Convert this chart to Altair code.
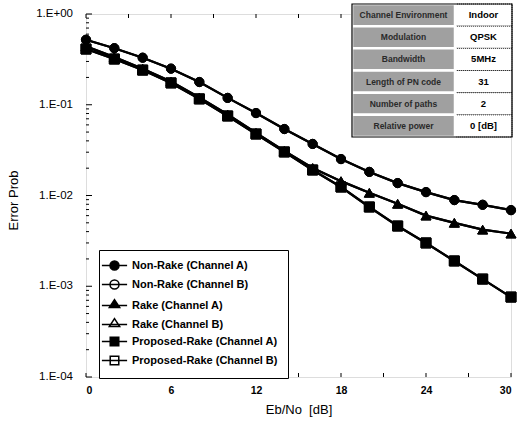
import altair as alt
import pandas as pd

# ---------------- data ----------------
snr = [0, 2, 4, 6, 8, 10, 12, 14, 16, 18, 20, 22, 24, 26, 28, 30]

nonrake_a = [0.52, 0.42, 0.33, 0.25, 0.178, 0.119, 0.081, 0.054, 0.037, 0.0252,
             0.0182, 0.0137, 0.0109, 0.0089, 0.0079, 0.0069]
nonrake_b = [0.52, 0.42, 0.33, 0.25, 0.178, 0.119, 0.081, 0.054, 0.037, 0.0252,
             0.0182, 0.0137, 0.0109, 0.0089, 0.0079, 0.0069]
rake_a = [0.44, 0.335, 0.25, 0.18, 0.12, 0.078, 0.049, 0.031, 0.0201, 0.0144,
          0.0107, 0.0081, 0.0060, 0.0050, 0.0042, 0.0038]
rake_b = [0.44, 0.335, 0.25, 0.18, 0.12, 0.078, 0.049, 0.031, 0.0201, 0.0144,
          0.0107, 0.0081, 0.0060, 0.0050, 0.0042, 0.0038]
prop_a = [0.411, 0.319, 0.241, 0.174, 0.116, 0.0752, 0.0476, 0.0302, 0.0191, 0.0124,
          0.00747, 0.00461, 0.0030, 0.0019, 0.0012, 0.00076]
prop_b = [0.411, 0.319, 0.241, 0.174, 0.116, 0.0752, 0.0476, 0.0302, 0.0191, 0.0124,
          0.00747, 0.00461, 0.0030, 0.0019, 0.0012, 0.00076]

series_names = ["Non-Rake (Channel A)", "Non-Rake (Channel B)",
                "Rake (Channel A)", "Rake (Channel B)",
                "Proposed-Rake (Channel A)", "Proposed-Rake (Channel B)"]
series_values = [nonrake_a, nonrake_b, rake_a, rake_b, prop_a, prop_b]
marker_shapes = ["circle", "circle", "triangle-up", "triangle-up", "square", "square"]
marker_fills = ["black", "white", "black", "white", "black", "white"]

x_tick_labels = [0, 6, 12, 18, 24, 30]
x_minor_ticks = [3, 9, 15, 21, 27]
y_tick_values = [1e-4, 1e-3, 1e-2, 1e-1, 1.0]
y_tick_text = ["1.E-04", "1.E-03", "1.E-02", "1.E-01", "1.E+00"]
y_minor_ticks = [m * d for d in [1e-4, 1e-3, 1e-2, 1e-1] for m in range(2, 10)]

table_params = ["Channel Environment", "Modulation", "Bandwidth",
                "Length of PN code", "Number of paths", "Relative power"]
table_values = ["Indoor", "QPSK", "5MHz", "31", "2", "0 [dB]"]

# ---------------- build tables ----------------
rows = []
for name, vals in zip(series_names, series_values):
    for xv, v in zip(snr, vals):
        rows.append({"series": name, "snr": xv, "err": v})
df = pd.DataFrame(rows)

W, H = 425, 363
FONT = "Liberation Sans"

xscale = alt.Scale(domain=[0, 30], nice=False, zero=False)
yscale = alt.Scale(type="log", domain=[1e-4, 1], nice=False)

x_enc = alt.X("snr:Q", scale=xscale,
              axis=alt.Axis(values=x_tick_labels, title="Eb/No\u00a0 [dB]",
                            domain=False, ticks=True, tickSize=8, tickOpacity=0,
                            grid=False,
                            labelFont=FONT, labelFontSize=10.5, labelFontWeight="bold",
                            labelColor="black", labelPadding=0,
                            titleFont=FONT, titleFontSize=13, titleFontWeight="normal",
                            titleColor="black", titlePadding=8))
y_enc = alt.Y("err:Q", scale=yscale,
              axis=alt.Axis(values=y_tick_values, labels=False,
                            title="Error Prob",
                            domain=False, ticks=False, grid=False,
                            titleFont=FONT, titleFontSize=13, titleFontWeight="normal",
                            titleColor="black", titleX=-66, titleY=186))

base = alt.Chart(df)

lines = base.mark_line(color="black", strokeWidth=2.2).encode(
    x=x_enc, y=y_enc, detail="series:N")

point_layers = []
for i in [1, 3, 5, 0, 2, 4]:
    sz = 85 if marker_shapes[i] == "circle" else 100
    point_layers.append(
        base.transform_filter(alt.datum.series == series_names[i])
        .mark_point(shape=marker_shapes[i], filled=True, fill=marker_fills[i],
                    stroke="black", strokeWidth=1, size=sz, opacity=1)
        .encode(x=x_enc, y=y_enc)
    )

# y tick labels (drawn through the y scale)
ylab = alt.Chart(pd.DataFrame({"err": y_tick_values, "lab": y_tick_text})).mark_text(
    font=FONT, fontSize=11.5, color="black", align="right", baseline="middle").encode(
    y=y_enc, x=alt.value(-13), text="lab:N")

# inward tick marks
yt_major = alt.Chart(pd.DataFrame({"err": y_tick_values})).mark_rule(
    color="black", strokeWidth=1).encode(y=y_enc, x=alt.value(0), x2=alt.value(6))
yt_minor = alt.Chart(pd.DataFrame({"err": y_minor_ticks})).mark_rule(
    color="black", strokeWidth=1).encode(y=y_enc, x=alt.value(0), x2=alt.value(3))
xt_df = pd.DataFrame({"snr": x_tick_labels + x_minor_ticks})
xt_bottom = alt.Chart(xt_df).mark_rule(color="black", strokeWidth=1).encode(
    x=x_enc, y=alt.value(H), y2=alt.value(H - 4))
xt_top = alt.Chart(xt_df).mark_rule(color="black", strokeWidth=1).encode(
    x=x_enc, y=alt.value(0), y2=alt.value(4))

# legend (line + marker symbols)
legend_paths = [
    "M-2.8,0H2.8M-1,0A1,1 0 1,0 1,0A1,1 0 1,0 -1,0Z",
    "M-2.8,0H2.8M-1,0A1,1 0 1,0 1,0A1,1 0 1,0 -1,0Z",
    "M-2.8,0H2.8M0,-1.3L1.15,0.45H-1.15Z",
    "M-2.8,0H2.8M0,-1.3L1.15,0.45H-1.15Z",
    "M-2.8,0H2.8M-0.95,-0.95H0.95V0.95H-0.95Z",
    "M-2.8,0H2.8M-0.95,-0.95H0.95V0.95H-0.95Z",
]
leg = alt.Legend(title=None, orient="none", legendX=13, legendY=236,
                 padding=10, rowPadding=4, labelOffset=12,
                 labelFont=FONT, labelFontSize=11, labelFontWeight="bold",
                 labelColor="black", labelLimit=400,
                 strokeColor="black", fillColor="white",
                 symbolStrokeColor="black", symbolStrokeWidth=1.5, symbolSize=81)
legend_layer = base.transform_filter("datum.snr < 0").mark_point(
    size=81, stroke="black", strokeWidth=1.5, opacity=1).encode(
    x=x_enc, y=y_enc,
    shape=alt.Shape("series:N", scale=alt.Scale(domain=series_names, range=legend_paths), legend=leg),
    fill=alt.Fill("series:N", scale=alt.Scale(domain=series_names, range=marker_fills), legend=leg),
    stroke=alt.Stroke("series:N", scale=alt.Scale(domain=series_names, range=["black"] * 6), legend=leg),
)

main = alt.layer(yt_minor, yt_major, xt_bottom, xt_top, ylab, lines, *point_layers, legend_layer)

# parameter table (top right)
tdf = pd.DataFrame({"param": table_params, "value": table_values})
ty = alt.Y("param:N", scale=alt.Scale(domain=table_params, range=[-10, 123],
                                      paddingInner=0, paddingOuter=0), axis=None)
tbase = alt.Chart(tdf)
value_cells = tbase.mark_rect(fill="white", stroke="black", strokeWidth=0.8,
                              strokeDash=[1, 1]).encode(
    x=alt.value(369), x2=alt.value(426), y=ty)
label_cells = tbase.mark_rect(fill="#a0a0a0", stroke="white", strokeWidth=2.5).encode(
    x=alt.value(266), x2=alt.value(369), y=ty)
frame = alt.Chart(pd.DataFrame({"k": [0]})).mark_rect(
    fill=None, filled=False, stroke="black", strokeWidth=1.2).encode(
    x=alt.value(266), x2=alt.value(426), y=alt.value(-10), y2=alt.value(123))
label_text = tbase.mark_text(font=FONT, fontSize=8.5, fontWeight="bold",
                             color="#2a2a2a").encode(
    x=alt.value(317.5), y=ty, text="param:N")
value_text = tbase.mark_text(font=FONT, fontSize=9.5, fontWeight="bold",
                             color="black").encode(
    x=alt.value(397.5), y=ty, text="value:N")
table = alt.layer(value_cells, label_cells, frame, label_text, value_text)

chart = alt.layer(main, table).resolve_scale(y="independent").properties(
    width=W, height=H,
    autosize=alt.AutoSizeParams(type="none"),
    padding={"left": 86, "top": 14, "right": 7, "bottom": 47},
).configure_view(stroke="black", strokeWidth=1.2).configure(background="white")

chart.save("out.html", embed_options={"renderer": "svg", "actions": False})
